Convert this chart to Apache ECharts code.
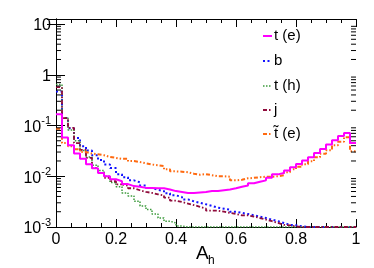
<!DOCTYPE html>
<html><head><meta charset="utf-8">
<script src="https://cdn.jsdelivr.net/npm/echarts@6/dist/echarts.min.js"></script>
<style>html,body{margin:0;padding:0;background:#fff}#c{width:374px;height:268px}</style>
</head><body><div id="c"></div>
<script>
// bin edges (50 bins of width 0.02)
const binEdges = [0,0.02,0.04,0.06,0.08,0.10,0.12,0.14,0.16,0.18,0.20,0.22,0.24,0.26,0.28,0.30,0.32,0.34,0.36,0.38,
  0.40,0.42,0.44,0.46,0.48,0.50,0.52,0.54,0.56,0.58,0.60,0.62,0.64,0.66,0.68,0.70,0.72,0.74,0.76,0.78,
  0.80,0.82,0.84,0.86,0.88,0.90,0.92,0.94,0.96,0.98,1.00];
const seriesNames = ['t (e)', 'b', 't (h)', 'j', 't\u0303 (e)'];
const tE = [0.166,0.058,0.041,0.028,0.022,0.0172,0.0144,0.0116,0.0100,0.0087,
  0.0080,0.0070,0.0064,0.0062,0.0059,0.0059,0.0058,0.0058,0.0055,0.0051,
  0.0049,0.0047,0.0047,0.0048,0.0049,0.0051,0.0051,0.0053,0.0055,0.0058,
  0.0062,0.0066,0.0073,0.0078,0.0083,0.0093,0.0109,0.0116,0.0130,0.0151,
  0.0175,0.0204,0.0237,0.0288,0.0345,0.042,0.051,0.062,0.071,0.045];
const bQ = [0.47,0.14,0.088,0.057,0.039,0.032,0.026,0.021,0.017,0.0146,
  0.0110,0.0096,0.0083,0.0076,0.0066,0.0059,0.0054,0.0051,0.0046,0.0042,
  0.0039,0.0035,0.0032,0.0030,0.0028,0.0026,0.0024,0.0023,0.0022,0.0020,
  0.0019,0.0018,0.0017,0.0016,0.0015,0.0014,0.0013,0.0012,0.0011,0.00108,
  0.00103,0.001,0.001,0.001,0.001,0.001,0.001,0.001,0.001,0.001];
const tH = [0.64,0.14,0.082,0.05,0.032,0.024,0.0165,0.013,0.0100,0.0075,
  0.0062,0.0047,0.0041,0.0032,0.0026,0.0022,0.0018,0.0015,0.0013,0.0012,
  0.00105,0.001,0.001,0.001,0.001,0.001,0.001,0.001,0.001,0.001,
  0.001,0.001,0.001,0.001,0.001,0.001,0.001,0.001,0.001,0.001,
  0.001,0.001,0.001,0.001,0.001,0.001,0.001,0.001,0.001,0.001];
const jet = [0.57,0.14,0.09,0.045,0.033,0.023,0.0146,0.0116,0.0093,0.0080,
  0.0069,0.0065,0.0058,0.0053,0.0049,0.0047,0.0044,0.0042,0.0038,0.0033,
  0.0031,0.0029,0.0027,0.0025,0.0023,0.0021,0.0021,0.0020,0.0019,0.0018,
  0.0017,0.0017,0.0016,0.0015,0.0014,0.0013,0.0012,0.0011,0.00108,0.00103,
  0.001,0.001,0.001,0.001,0.001,0.001,0.001,0.001,0.001,0.001];
const stE = [0.086,0.045,0.039,0.034,0.030,0.028,0.027,0.026,0.024,0.023,
  0.022,0.022,0.020,0.019,0.018,0.017,0.0165,0.0158,0.0137,0.0125,
  0.0123,0.0120,0.0112,0.0107,0.0110,0.0105,0.0100,0.0100,0.0098,0.0083,
  0.0085,0.0091,0.0093,0.0096,0.0098,0.0098,0.0100,0.0105,0.012,0.0137,
  0.0154,0.0172,0.0198,0.0237,0.0278,0.0326,0.041,0.048,0.059,0.031];
// log-axis minor tick positions (2..9 per decade)
const minorYTicks = [0.002,0.003,0.004,0.005,0.006,0.007,0.008,0.009,
  0.02,0.03,0.04,0.05,0.06,0.07,0.08,0.09,
  0.2,0.3,0.4,0.5,0.6,0.7,0.8,0.9,
  2,3,4,5,6,7,8,9];
const yMin = 0.001, yMax = 12.55;

const FONT = 'Liberation Sans';
function histData(vals) {
  const d = vals.map((v, i) => [binEdges[i], v]);
  d.push([binEdges[binEdges.length - 1], vals[vals.length - 1]]);
  return d;
}
const styles = [
  {color: '#ff00ff', width: 2, type: 'solid'},
  {color: '#1414ff', width: 2, type: [2, 2.5]},
  {color: '#3c9a3c', width: 1.5, type: [1.5, 1.5]},
  {color: '#8f0b3b', width: 1.8, type: [4, 2, 1.5, 2]},
  {color: '#ff6a10', width: 2, type: [4, 2, 1.5, 2, 1.5, 2]}
];
const allVals = [tE, bQ, tH, jet, stE];
const series = allVals.map((vals, i) => ({
  name: seriesNames[i], type: 'line', step: 'end', showSymbol: false, symbol: 'none',
  data: histData(vals), xAxisIndex: 0, yAxisIndex: 0, clip: true, animation: false,
  z: i === 0 ? 5 : 3,
  lineStyle: {color: styles[i].color, width: styles[i].width, type: styles[i].type},
  itemStyle: {color: styles[i].color}
}));
series.push({
  type: 'custom', name: 'minorTicks', silent: true, animation: false, z: 10,
  xAxisIndex: 0, yAxisIndex: 0,
  data: minorYTicks.map(v => [0, v]),
  encode: {x: 0, y: 1},
  renderItem: function (params, api) {
    const v = api.value(1);
    const pl = api.coord([0, v]);
    const pr = api.coord([1, v]);
    return {type: 'group', children: [
      {type: 'line', shape: {x1: pl[0], y1: pl[1], x2: pl[0] + 5, y2: pl[1]}, style: {stroke: '#000', lineWidth: 1}},
      {type: 'line', shape: {x1: pr[0], y1: pr[1], x2: pr[0] - 5, y2: pr[1]}, style: {stroke: '#000', lineWidth: 1}}
    ]};
  }
});

// legend drawn as line samples + real text
const legendRowY = [36, 61, 86, 110, 134];
const legendGraphics = [];
seriesNames.forEach((n, i) => {
  const s = styles[i];
  legendGraphics.push({type: 'line', shape: {x1: 263, y1: legendRowY[i], x2: 272, y2: legendRowY[i]},
    style: {stroke: s.color, lineWidth: s.width, lineDash: s.type === 'solid' ? null : s.type}});
  legendGraphics.push({type: 'text', x: 274, y: legendRowY[i],
    style: {text: n, fontFamily: FONT, fontSize: 15, fill: '#000', verticalAlign: 'middle', align: 'left'}});
});

function yFmt(v) {
  const e = Math.round(Math.log10(v));
  if (e === 1) return '{b|10}';
  if (e === 0) return '{b|1}';
  return '{b|10}{s|' + e + '}';
}
const axisLineStyle = {color: '#000', width: 1};
const option = {
  backgroundColor: '#fff',
  animation: false,
  grid: {left: 56, right: 18, top: 19, bottom: 41, containLabel: false},
  xAxis: [{
    type: 'value', min: 0, max: 1, interval: 0.2, position: 'bottom',
    axisLine: {show: true, lineStyle: axisLineStyle},
    axisTick: {show: true, inside: true, length: 8, lineStyle: axisLineStyle},
    minorTick: {show: true, splitNumber: 4, length: 4, lineStyle: axisLineStyle},
    splitLine: {show: false},
    axisLabel: {fontFamily: FONT, fontSize: 16, color: '#000', margin: 5,
      formatter: v => (v === 0 ? '0' : (Math.abs(v - 1) < 1e-9 ? '1' : v.toFixed(1)))}
  }, {
    type: 'value', min: 0, max: 1, interval: 0.2, position: 'top',
    axisLine: {show: true, lineStyle: axisLineStyle},
    axisTick: {show: true, inside: true, length: 8, lineStyle: axisLineStyle},
    minorTick: {show: true, splitNumber: 4, length: 4, lineStyle: axisLineStyle},
    splitLine: {show: false}, axisLabel: {show: false}
  }],
  yAxis: [{
    type: 'log', logBase: 10, min: yMin, max: yMax, position: 'left',
    axisLine: {show: true, lineStyle: axisLineStyle},
    axisTick: {show: true, inside: true, length: 9, lineStyle: axisLineStyle},
    splitLine: {show: false},
    axisLabel: {show: true, showMaxLabel: false, margin: 5, formatter: yFmt,
      rich: {
        b: {fontFamily: FONT, fontSize: 16, color: '#000', lineHeight: 20, verticalAlign: 'bottom'},
        s: {fontFamily: FONT, fontSize: 11, color: '#000', lineHeight: 11, verticalAlign: 'top'}
      }}
  }, {
    type: 'log', logBase: 10, min: yMin, max: yMax, position: 'right',
    axisLine: {show: true, lineStyle: axisLineStyle},
    axisTick: {show: true, inside: true, length: 9, lineStyle: axisLineStyle},
    splitLine: {show: false}, axisLabel: {show: false}
  }],
  graphic: [
    {type: 'text', left: 196, top: 244, style: {text: 'A', fontFamily: FONT, fontSize: 19, fill: '#000'}},
    {type: 'text', left: 208, top: 255, style: {text: 'h', fontFamily: FONT, fontSize: 12, fill: '#000'}}
  ].concat(legendGraphics),
  series: series
};
const chart = echarts.init(document.getElementById('c'), null, {renderer: 'canvas'});
chart.setOption(option);
</script>
</body></html>
